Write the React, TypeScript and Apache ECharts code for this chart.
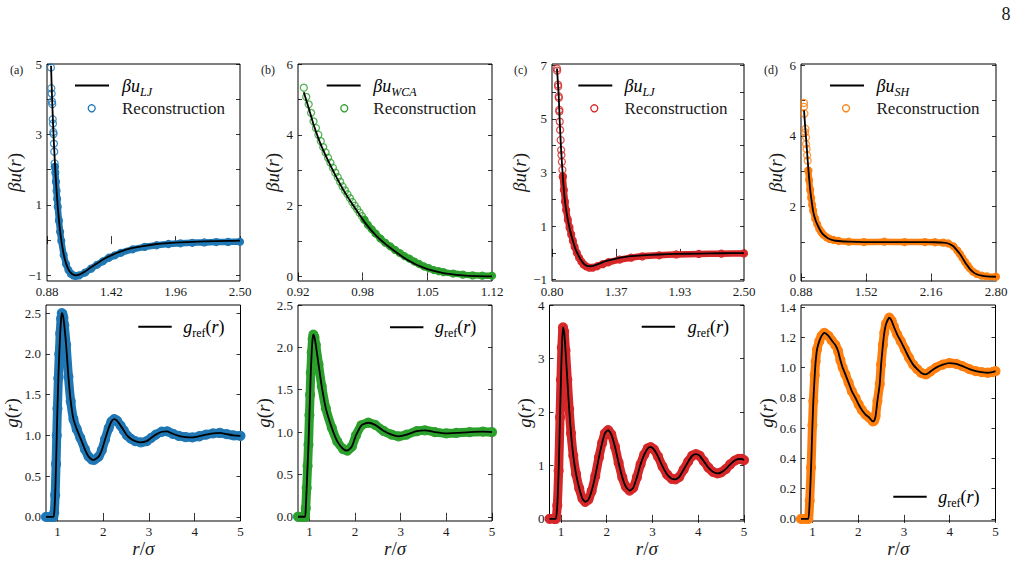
import React, { useEffect, useRef } from "react";
import * as echarts from "echarts";

type Pt = [number, number];

// ---------- (a) Lennard-Jones ----------
const uLJ_a: Pt[] = [
  [0.914, 4.95], [0.92, 4.28], [0.93, 3.37], [0.94, 2.61], [0.95, 1.96], [0.96, 1.42],
  [0.97, 0.96], [0.98, 0.58], [0.99, 0.26], [1.0, 0.0], [1.02, -0.4], [1.04, -0.66],
  [1.06, -0.83], [1.08, -0.93], [1.1, -0.98], [1.12, -1.0], [1.15, -0.98], [1.2, -0.89],
  [1.25, -0.77], [1.3, -0.66], [1.35, -0.55], [1.4, -0.46], [1.5, -0.32], [1.6, -0.22],
  [1.7, -0.16], [1.8, -0.11], [1.9, -0.083], [2.0, -0.062], [2.2, -0.035], [2.4, -0.021],
  [2.5, -0.016],
];
const recSparse_a: Pt[] = [
  [0.913, 4.9], [0.916, 4.31], [0.919, 4.16], [0.922, 3.93], [0.924, 3.86], [0.928, 3.43],
  [0.93, 3.31], [0.933, 3.07], [0.935, 3.01], [0.938, 2.74], [0.941, 2.51], [0.944, 2.18],
  [0.946, 2.08],
];
const recBand_a: Pt[] = [
  [0.946, 2.08], [0.95, 1.92], [0.955, 1.66], [0.96, 1.4], [0.965, 1.17], [0.97, 0.95],
  [0.98, 0.56], [0.99, 0.24], [1.0, -0.02], [1.02, -0.42], [1.04, -0.68], [1.06, -0.85],
  [1.08, -0.95], [1.1, -1.0], [1.12, -1.02], [1.15, -1.0], [1.2, -0.92], [1.25, -0.81],
  [1.3, -0.7], [1.35, -0.6], [1.4, -0.5], [1.45, -0.43], [1.5, -0.36], [1.6, -0.26],
  [1.7, -0.19], [1.8, -0.145], [1.9, -0.11], [2.0, -0.09], [2.1, -0.075], [2.2, -0.065],
  [2.3, -0.055], [2.4, -0.05], [2.5, -0.045],
];
const gRef_a: Pt[] = [
  [0.75, 0], [0.85, 0], [0.91, 0], [0.93, 0.05], [0.95, 0.27], [0.97, 0.65], [0.985, 1.0],
  [1.0, 1.33], [1.02, 1.7], [1.04, 2.0], [1.06, 2.25], [1.08, 2.43], [1.095, 2.5],
  [1.11, 2.49], [1.13, 2.44], [1.15, 2.35], [1.19, 2.11], [1.24, 1.72], [1.29, 1.42],
  [1.35, 1.2], [1.42, 1.08], [1.5, 0.97], [1.6, 0.83], [1.68, 0.74], [1.75, 0.705],
  [1.8, 0.7], [1.9, 0.74], [1.97, 0.82], [2.04, 0.95], [2.12, 1.09], [2.18, 1.17],
  [2.24, 1.2], [2.3, 1.18], [2.38, 1.12], [2.45, 1.06], [2.52, 1.0], [2.6, 0.96],
  [2.7, 0.93], [2.82, 0.915], [2.95, 0.93], [3.05, 0.97], [3.15, 1.01], [3.28, 1.045],
  [3.4, 1.05], [3.52, 1.02], [3.65, 0.995], [3.8, 0.98], [3.95, 0.975], [4.1, 0.99],
  [4.25, 1.01], [4.4, 1.025], [4.55, 1.03], [4.7, 1.015], [4.85, 1.0], [5.0, 0.995],
];

// ---------- (b) WCA ----------
const uWCA_b: Pt[] = [
  [0.926, 5.2], [0.931, 4.76], [0.936, 4.29], [0.943, 3.76], [0.95, 3.33], [0.9585, 2.86],
  [0.967, 2.43], [0.977, 2.0], [0.989, 1.52], [1.001, 1.14], [1.015, 0.81], [1.032, 0.48],
  [1.05, 0.24], [1.07, 0.095], [1.09, 0.03], [1.105, 0.008], [1.12, 0.0],
];
const recSparse_b: Pt[] = [
  [0.926, 5.33], [0.9285, 5.07], [0.931, 4.86], [0.9335, 4.62], [0.936, 4.38], [0.9385, 4.19],
  [0.941, 4.0], [0.9435, 3.82], [0.946, 3.65], [0.9485, 3.5], [0.951, 3.35], [0.9535, 3.21],
  [0.956, 3.07], [0.9585, 2.93], [0.961, 2.8], [0.9635, 2.67], [0.966, 2.54], [0.9685, 2.43],
  [0.971, 2.32], [0.9735, 2.21], [0.976, 2.1], [0.9785, 2.0], [0.981, 1.9], [0.9835, 1.8],
  [0.986, 1.7], [0.9885, 1.6],
];
const recBand_b: Pt[] = [
  [0.9885, 1.6], [0.992, 1.46], [0.996, 1.33], [1.0, 1.21], [1.005, 1.07], [1.01, 0.95],
  [1.015, 0.85], [1.02, 0.75], [1.025, 0.66], [1.03, 0.57], [1.035, 0.5], [1.04, 0.42],
  [1.045, 0.35], [1.05, 0.28], [1.055, 0.23], [1.06, 0.18], [1.065, 0.15], [1.07, 0.12],
  [1.08, 0.08], [1.09, 0.05], [1.1, 0.03], [1.11, 0.02], [1.12, 0.02],
];
const gRef_b: Pt[] = [
  [0.75, 0], [0.85, 0], [0.905, 0], [0.92, 0.1], [0.94, 0.34], [0.96, 0.6], [0.98, 0.85],
  [1.0, 1.2], [1.015, 1.44], [1.03, 1.7], [1.05, 1.94], [1.07, 2.1], [1.087, 2.15],
  [1.11, 2.12], [1.14, 2.03], [1.2, 1.8], [1.27, 1.54], [1.36, 1.28], [1.49, 1.05],
  [1.61, 0.89], [1.74, 0.8], [1.83, 0.78], [1.93, 0.83], [2.02, 0.96], [2.14, 1.08],
  [2.29, 1.11], [2.44, 1.085], [2.62, 1.015], [2.8, 0.97], [2.95, 0.95], [3.13, 0.97],
  [3.35, 1.01], [3.53, 1.02], [3.75, 1.0], [4.0, 0.985], [4.22, 0.99], [4.51, 1.0],
  [4.8, 1.005], [5.0, 1.0],
];

// ---------- (c) Lennard-Jones, dense ----------
const uLJ_c: Pt[] = [
  [0.844, 6.88], [0.85, 6.5], [0.859, 5.9], [0.868, 4.95], [0.88, 3.9], [0.895, 2.9],
  [0.912, 2.03], [0.933, 1.4], [0.963, 0.78], [0.985, 0.45], [1.007, 0.15], [1.03, -0.06],
  [1.051, -0.23], [1.08, -0.4], [1.11, -0.49], [1.14, -0.5], [1.17, -0.48], [1.22, -0.4],
  [1.273, -0.31], [1.35, -0.23], [1.42, -0.17], [1.5, -0.12], [1.6, -0.09], [1.75, -0.06],
  [1.9, -0.04], [2.1, -0.025], [2.3, -0.015], [2.5, -0.01],
];
const recSparse_c: Pt[] = [
  [0.844, 6.88], [0.8453, 6.8], [0.8533, 6.28], [0.8545, 6.21], [0.8596, 5.84], [0.8601, 5.78],
  [0.8644, 5.34], [0.865, 5.28], [0.8685, 4.9], [0.8721, 4.59], [0.8764, 4.21], [0.8809, 3.84],
  [0.8837, 3.65], [0.8875, 3.4], [0.892, 3.1], [0.896, 2.85],
];
const recBand_c: Pt[] = [
  [0.896, 2.85], [0.905, 2.35], [0.915, 1.92], [0.925, 1.6], [0.94, 1.24], [0.955, 0.95],
  [0.97, 0.69], [0.985, 0.45], [1.0, 0.23], [1.02, 0.0], [1.04, -0.18], [1.06, -0.32],
  [1.08, -0.43], [1.1, -0.5], [1.13, -0.55], [1.16, -0.55], [1.2, -0.5], [1.25, -0.42],
  [1.3, -0.35], [1.4, -0.25], [1.5, -0.18], [1.6, -0.13], [1.75, -0.09], [1.9, -0.06],
  [2.1, -0.04], [2.3, -0.03], [2.5, -0.02],
];
const gRef_c: Pt[] = [
  [0.75, 0], [0.85, 0], [0.89, 0], [0.92, 0.25], [0.95, 0.9], [0.98, 1.9], [1.0, 2.6],
  [1.02, 3.2], [1.045, 3.58], [1.07, 3.5], [1.1, 3.15], [1.14, 2.6], [1.18, 2.05],
  [1.22, 1.6], [1.27, 1.18], [1.33, 0.84], [1.4, 0.57], [1.47, 0.38], [1.53, 0.32],
  [1.6, 0.36], [1.67, 0.52], [1.75, 0.8], [1.83, 1.15], [1.9, 1.42], [1.96, 1.6],
  [2.03, 1.66], [2.1, 1.58], [2.18, 1.35], [2.26, 1.05], [2.34, 0.78], [2.42, 0.6],
  [2.5, 0.53], [2.58, 0.58], [2.66, 0.78], [2.74, 1.02], [2.82, 1.2], [2.9, 1.32],
  [2.96, 1.34], [3.03, 1.3], [3.12, 1.17], [3.22, 0.98], [3.32, 0.83], [3.42, 0.75],
  [3.5, 0.74], [3.58, 0.78], [3.68, 0.92], [3.78, 1.07], [3.87, 1.18], [3.95, 1.21],
  [4.03, 1.18], [4.12, 1.08], [4.22, 0.96], [4.32, 0.88], [4.42, 0.85], [4.5, 0.87],
  [4.6, 0.93], [4.7, 1.02], [4.8, 1.09], [4.88, 1.12], [4.95, 1.12], [5.0, 1.1],
];

// ---------- (d) soft shoulder ----------
const uSH_d: Pt[] = [
  [0.91, 4.72], [0.92, 4.3], [0.936, 3.7], [0.95, 3.15], [0.969, 2.52], [0.985, 2.15],
  [1.0, 1.86], [1.025, 1.6], [1.05, 1.44], [1.08, 1.28], [1.116, 1.17], [1.15, 1.1],
  [1.2, 1.05], [1.25, 1.03], [1.35, 1.01], [1.5, 1.0], [1.7, 1.0], [1.9, 1.0], [2.1, 1.0],
  [2.2, 0.995], [2.28, 0.985], [2.33, 0.96], [2.38, 0.88], [2.42, 0.75], [2.445, 0.66],
  [2.47, 0.55], [2.495, 0.43], [2.52, 0.33], [2.54, 0.25], [2.575, 0.15], [2.61, 0.09],
  [2.66, 0.05], [2.71, 0.03], [2.8, 0.02],
];
const recSparse_d: Pt[] = [
  [0.9095, 4.93], [0.9095, 4.82], [0.914, 4.63], [0.924, 4.2], [0.921, 4.1], [0.93, 3.96],
  [0.929, 3.77], [0.935, 3.63], [0.94, 3.45], [0.946, 3.3], [0.952, 3.02],
];
const recBand_d: Pt[] = [
  [0.952, 3.02], [0.96, 2.75], [0.97, 2.48], [0.98, 2.25], [0.99, 2.05], [1.0, 1.89],
  [1.02, 1.66], [1.04, 1.5], [1.06, 1.37], [1.08, 1.28], [1.1, 1.21], [1.13, 1.14],
  [1.16, 1.09], [1.2, 1.06], [1.25, 1.03], [1.35, 1.01], [1.5, 1.0], [1.7, 1.01], [1.9, 1.0],
  [2.1, 1.0], [2.2, 0.995], [2.28, 0.985], [2.33, 0.96], [2.38, 0.88], [2.42, 0.76],
  [2.445, 0.66], [2.47, 0.55], [2.495, 0.44], [2.52, 0.34], [2.54, 0.26], [2.575, 0.16],
  [2.61, 0.1], [2.66, 0.05], [2.71, 0.03], [2.8, 0.02],
];
const gRef_d: Pt[] = [
  [0.75, 0], [0.85, 0], [0.91, 0], [0.94, 0.12], [0.97, 0.34], [1.0, 0.62], [1.02, 0.78],
  [1.05, 0.95], [1.07, 1.04], [1.1, 1.12], [1.15, 1.175], [1.2, 1.21], [1.26, 1.23],
  [1.35, 1.21], [1.42, 1.18], [1.5, 1.15], [1.56, 1.11], [1.61, 1.05], [1.66, 1.0],
  [1.72, 0.955], [1.79, 0.9], [1.86, 0.845], [1.94, 0.8], [2.01, 0.756], [2.08, 0.72],
  [2.16, 0.69], [2.24, 0.67], [2.32, 0.645], [2.35, 0.65], [2.38, 0.68], [2.42, 0.78],
  [2.47, 0.89], [2.5, 1.02], [2.54, 1.15], [2.57, 1.23], [2.61, 1.29], [2.68, 1.33],
  [2.73, 1.31], [2.78, 1.27], [2.85, 1.22], [2.93, 1.175], [3.02, 1.12], [3.11, 1.065],
  [3.2, 1.02], [3.29, 0.99], [3.38, 0.965], [3.48, 0.955], [3.58, 0.975], [3.7, 1.0],
  [3.85, 1.02], [3.99, 1.03], [4.14, 1.025], [4.28, 1.01], [4.43, 0.99], [4.57, 0.977],
  [4.7, 0.97], [4.83, 0.966], [4.93, 0.97], [5.0, 0.977],
];

// ---------- axis ranges and ticks ----------
const xRangeTop: Pt[] = [[0.88, 2.5], [0.92, 1.12], [0.8, 2.5], [0.88, 2.8]];
const yRangeTop: Pt[] = [[-1.16, 5.0], [-0.13, 6.0], [-1.05, 7.05], [-0.1, 6.03]];
const xTicksTop = [
  [0.88, 1.42, 1.96, 2.5],
  [0.92, 0.98667, 1.05333, 1.12],
  [0.8, 1.36667, 1.93333, 2.5],
  [0.88, 1.52, 2.16, 2.8],
];
const xLabelsTop = [
  ["0.88", "1.42", "1.96", "2.50"],
  ["0.92", "0.98", "1.05", "1.12"],
  ["0.80", "1.37", "1.93", "2.50"],
  ["0.88", "1.52", "2.16", "2.80"],
];
const yTicksTop = [
  [-1, 0, 1, 2, 3, 4, 5],
  [0, 1, 2, 3, 4, 5, 6],
  [-1, 0, 1, 2, 3, 4, 5, 6, 7],
  [0, 1, 2, 3, 4, 5, 6],
];
const yLabelsTop = [
  [-1, 1, 3, 5],
  [0, 2, 4, 6],
  [-1, 1, 3, 5, 7],
  [0, 2, 4, 6],
];
const xRangeBot: Pt = [0.75, 5];
const xTicksBot = [1, 2, 3, 4, 5];
const yRangeBot: Pt[] = [[-0.05, 2.6], [-0.05, 2.5], [-0.04, 4.0], [-0.014, 1.414]];
const yTicksBot = [
  [0, 0.5, 1.0, 1.5, 2.0, 2.5],
  [0, 0.5, 1.0, 1.5, 2.0, 2.5],
  [0, 1, 2, 3, 4],
  [0, 0.2, 0.4, 0.6, 0.8, 1.0, 1.2, 1.4],
];
const yDecimalsBot = [1, 1, 0, 1];

const potentialLines = [uLJ_a, uWCA_b, uLJ_c, uSH_d];
const reconSparse = [recSparse_a, recSparse_b, recSparse_c, recSparse_d];
const reconBand = [recBand_a, recBand_b, recBand_c, recBand_d];
const gRefs = [gRef_a, gRef_b, gRef_c, gRef_d];
const potentialSubs = ["LJ", "WCA", "LJ", "SH"];
const panelTags = ["(a)", "(b)", "(c)", "(d)"];
const colors = ["#1f77b4", "#2ca02c", "#d62728", "#ff7f0e"];

// ---------- layout ----------
const FONT = "Liberation Serif";
const TXT = "#1a1a1a";
const topGrids = [
  { left: 47, width: 193 },
  { left: 298, width: 194 },
  { left: 552, width: 192 },
  { left: 801, width: 195 },
];
const botGrids = [
  { left: 46, width: 194.5 },
  { left: 298, width: 194 },
  { left: 549.5, width: 194.5 },
  { left: 801, width: 194.5 },
];
const topNameGap = [22, 16, 20, 16];
const botNameGap = [20, 18, 14, 18];
const topLegend = [
  { lx: 75, tx: 122, cx: 91.7 },
  { lx: 326.7, tx: 373.3, cx: 344.3 },
  { lx: 578.3, tx: 624.5, cx: 594.3 },
  { lx: 830, tx: 876.5, cx: 846 },
];
const botLegend = [
  { lx: 138.3, tx: 183.3, y: 326.7 },
  { lx: 390, tx: 435, y: 327.3 },
  { lx: 641.7, tx: 687.7, y: 326.7 },
  { lx: 893.3, tx: 938.3, y: 496.7 },
];
const tagX = [10, 261, 514, 764];

const minus = (v: number, d: number) => {
  const s = Math.abs(v).toFixed(d);
  return v < 0 ? "\u2212" + s : s;
};

const mathRich = {
  i: { fontFamily: FONT, fontStyle: "italic", fontSize: 19, color: TXT },
  n: { fontFamily: FONT, fontSize: 19, color: TXT },
};

const legendRich = {
  m: { fontFamily: FONT, fontStyle: "italic", fontSize: 18, lineHeight: 20, padding: [0, 0, 4, 0], color: TXT },
  u: { fontFamily: FONT, fontSize: 18, lineHeight: 20, padding: [0, 0, 4, 0], color: TXT },
  s: { fontFamily: FONT, fontStyle: "italic", fontSize: 12, lineHeight: 12, padding: [10, 0, 2, 0], color: TXT },
  r: { fontFamily: FONT, fontSize: 12, lineHeight: 12, padding: [10, 0, 2, 0], color: TXT },
};

function makeAxes(
  gi: number,
  xr: Pt,
  yr: Pt,
  xTicks: number[],
  xFmt: (v: number) => string,
  yTicks: number[],
  yLabelTicks: number[],
  yFmt: (v: number) => string,
  yNameGap: number,
  withXName: boolean,
  yName: string
) {
  const tick = (vals: number[]) => ({
    show: true,
    inside: true,
    length: 4,
    customValues: vals,
    lineStyle: { color: "#000", width: 0.8 },
  });
  const label = (vals: number[], fmt: (v: number) => string) => ({
    show: true,
    customValues: vals,
    formatter: fmt,
    fontFamily: FONT,
    fontSize: 13,
    color: TXT,
    margin: 4,
  });
  const nameStyle = { fontFamily: FONT, fontSize: 19, color: TXT, rich: mathRich };
  const xs = [
    {
      type: "value",
      gridIndex: gi,
      position: "bottom",
      min: xr[0],
      max: xr[1],
      axisLine: { show: false },
      splitLine: { show: false },
      axisTick: tick(xTicks),
      axisLabel: label(xTicks, xFmt),
      name: withXName ? "{i|r}{n|/}{i|\u03c3}" : "",
      nameLocation: "middle",
      nameGap: 17,
      nameTextStyle: nameStyle,
    },
    {
      type: "value",
      gridIndex: gi,
      position: "top",
      min: xr[0],
      max: xr[1],
      axisLine: { show: false },
      splitLine: { show: false },
      axisTick: tick(xTicks),
      axisLabel: { show: false },
    },
  ];
  const ys = [
    {
      type: "value",
      gridIndex: gi,
      position: "left",
      min: yr[0],
      max: yr[1],
      axisLine: { show: false },
      splitLine: { show: false },
      axisTick: tick(yTicks),
      axisLabel: { ...label(yLabelTicks, yFmt), margin: 5 },
      name: yName,
      nameLocation: "middle",
      nameGap: yNameGap,
      nameTextStyle: nameStyle,
    },
    {
      type: "value",
      gridIndex: gi,
      position: "right",
      min: yr[0],
      max: yr[1],
      axisLine: { show: false },
      splitLine: { show: false },
      axisTick: tick(yTicks),
      axisLabel: { show: false },
    },
  ];
  return { xs, ys };
}

function buildOption() {
  const grid: any[] = [];
  const xAxis: any[] = [];
  const yAxis: any[] = [];
  const series: any[] = [];
  const graphic: any[] = [];

  const frame = { show: true, borderColor: "#000", borderWidth: 1, backgroundColor: "transparent" };

  // top row: potentials
  for (let p = 0; p < 4; p++) {
    const gi = p;
    grid.push({ ...frame, left: topGrids[p].left, width: topGrids[p].width, top: 64, height: 217 });
    const xT = xTicksTop[p];
    const xL = xLabelsTop[p];
    const { xs, ys } = makeAxes(
      gi,
      xRangeTop[p],
      yRangeTop[p],
      xT,
      (v) => {
        const k = xT.findIndex((t) => Math.abs(t - v) < 1e-6);
        return k >= 0 ? xL[k] : "";
      },
      yTicksTop[p],
      yLabelsTop[p],
      (v) => minus(v, 0),
      topNameGap[p],
      false,
      "{i|\u03b2u}{n|(}{i|r}{n|)}"
    );
    xAxis.push(...xs);
    yAxis.push(...ys);
    const ai = 2 * gi;
    const c = colors[p];
    series.push({
      type: "line",
      data: reconBand[p],
      xAxisIndex: ai,
      yAxisIndex: ai,
      smooth: 0.2,
      symbol: "circle",
      symbolSize: 7,
      showSymbol: true,
      itemStyle: { color: "rgba(0,0,0,0)", borderColor: c, borderWidth: 1.2 },
      lineStyle: { color: c, width: 6.5, cap: "round", join: "round" },
      emphasis: { disabled: true },
      silent: true,
      z: 1,
    });
    series.push({
      type: "scatter",
      data: reconSparse[p],
      xAxisIndex: ai,
      yAxisIndex: ai,
      symbol: "circle",
      symbolSize: 7,
      itemStyle: { color: "rgba(0,0,0,0)", borderColor: c, borderWidth: 1.3 },
      emphasis: { disabled: true },
      silent: true,
      z: 2,
    });
    series.push({
      type: "line",
      data: potentialLines[p],
      xAxisIndex: ai,
      yAxisIndex: ai,
      smooth: 0.2,
      symbol: "none",
      showSymbol: false,
      lineStyle: { color: "#000", width: 1.8 },
      emphasis: { disabled: true },
      silent: true,
      z: 3,
    });

    const lg = topLegend[p];
    graphic.push(
      { type: "line", shape: { x1: lg.lx, y1: 85.5, x2: lg.lx + 34, y2: 85.5 }, style: { stroke: "#000", lineWidth: 2 } },
      {
        type: "text",
        x: lg.tx,
        y: 88,
        style: {
          text: `{m|\u03b2u}{s|${potentialSubs[p]}}`,
          rich: legendRich,
          verticalAlign: "middle",
          align: "left",
        },
      },
      { type: "circle", shape: { cx: lg.cx, cy: 108.3, r: 3.5 }, style: { fill: "none", stroke: c, lineWidth: 1.3 } },
      {
        type: "text",
        x: lg.tx,
        y: 108.5,
        style: { text: "Reconstruction", fontFamily: FONT, fontSize: 17, fill: TXT, verticalAlign: "middle", align: "left" },
      },
      {
        type: "text",
        x: tagX[p],
        y: 70,
        style: { text: panelTags[p], fontFamily: FONT, fontSize: 12, fill: TXT, verticalAlign: "middle", align: "left" },
      }
    );
  }

  // bottom row: pair correlation functions
  for (let p = 0; p < 4; p++) {
    const gi = 4 + p;
    grid.push({ ...frame, left: botGrids[p].left, width: botGrids[p].width, top: 305, height: 216 });
    const d = yDecimalsBot[p];
    const { xs, ys } = makeAxes(
      gi,
      xRangeBot,
      yRangeBot[p],
      xTicksBot,
      (v) => String(Math.round(v)),
      yTicksBot[p],
      yTicksBot[p],
      (v) => minus(v, d),
      botNameGap[p],
      true,
      "{i|g}{n|(}{i|r}{n|)}"
    );
    xAxis.push(...xs);
    yAxis.push(...ys);
    const ai = 2 * gi;
    const c = colors[p];
    series.push({
      type: "line",
      data: gRefs[p],
      xAxisIndex: ai,
      yAxisIndex: ai,
      smooth: 0.2,
      symbol: "circle",
      symbolSize: 9,
      showSymbol: true,
      itemStyle: { color: "rgba(0,0,0,0)", borderColor: c, borderWidth: 1.2 },
      lineStyle: { color: c, width: 9, cap: "round", join: "round" },
      emphasis: { disabled: true },
      silent: true,
      z: 1,
    });
    series.push({
      type: "line",
      data: gRefs[p],
      xAxisIndex: ai,
      yAxisIndex: ai,
      smooth: 0.2,
      symbol: "none",
      showSymbol: false,
      lineStyle: { color: "#000", width: 1.8 },
      emphasis: { disabled: true },
      silent: true,
      z: 3,
    });
    const lg = botLegend[p];
    graphic.push(
      { type: "line", shape: { x1: lg.lx, y1: lg.y, x2: lg.lx + 33.4, y2: lg.y }, style: { stroke: "#000", lineWidth: 2 } },
      {
        type: "text",
        x: lg.tx,
        y: lg.y + 2,
        style: {
          text: "{m|g}{r|ref}{u|(}{m|r}{u|)}",
          rich: legendRich,
          verticalAlign: "middle",
          align: "left",
        },
      }
    );
  }

  graphic.push({
    type: "text",
    x: 1006,
    y: 14,
    style: { text: "8", fontFamily: FONT, fontSize: 18, fill: TXT, verticalAlign: "middle", align: "center" },
  });

  return {
    animation: false,
    backgroundColor: "#ffffff",
    textStyle: { fontFamily: FONT },
    grid,
    xAxis,
    yAxis,
    series,
    graphic,
  };
}

export default function App() {
  const ref = useRef<HTMLDivElement>(null);
  useEffect(() => {
    if (!ref.current) return;
    const chart = echarts.init(ref.current, undefined, { renderer: "svg" });
    chart.setOption(buildOption() as any);
    return () => chart.dispose();
  }, []);
  return (
    <div
      ref={ref}
      style={{ position: "fixed", left: 0, top: 0, width: 1020, height: 563, background: "#fff" }}
    />
  );
}
